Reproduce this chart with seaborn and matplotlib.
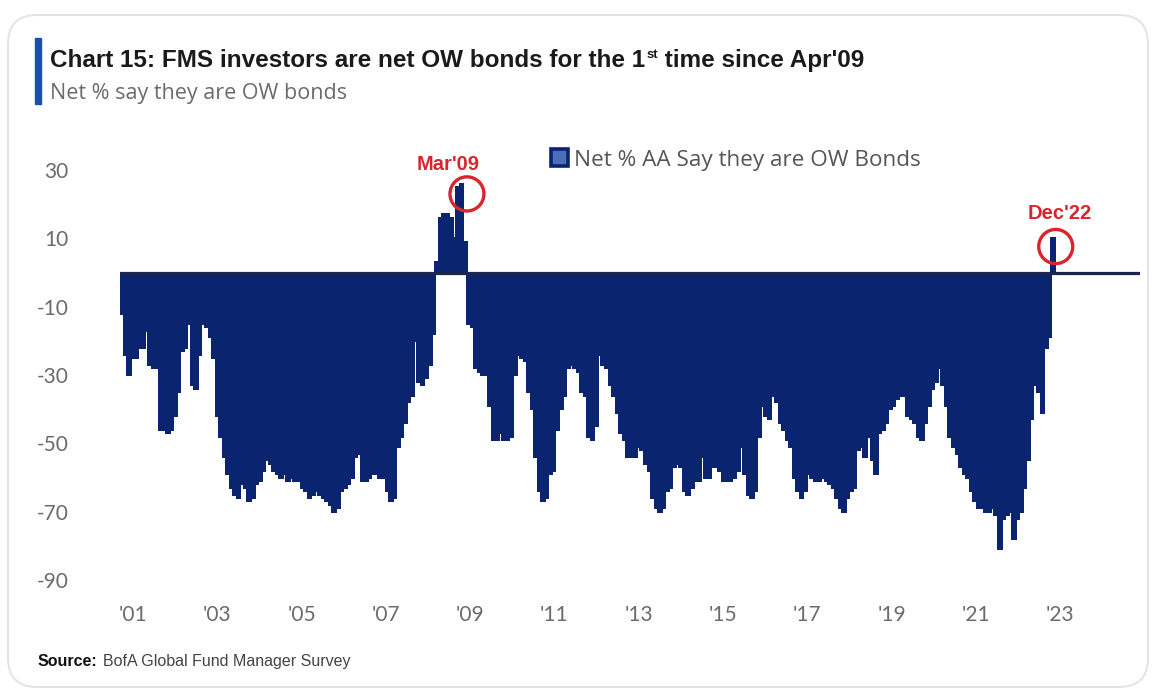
import numpy as np
import pandas as pd
import matplotlib
matplotlib.use("Agg")
import matplotlib.pyplot as plt
import seaborn as sns
from matplotlib import font_manager
from matplotlib.patches import Ellipse, Patch, FancyBboxPatch, Rectangle

# Net % of FMS asset allocators overweight bonds, monthly, 2001 - Dec 2022
ow_2001 = [-12, -24, -30, -25, -25, -22, -22, -17, -27, -28, -28, -46]
ow_2002 = [-46, -47, -46, -42, -35, -23, -22, -15, -33, -34, -24, -15]
ow_2003 = [-16, -19, -25, -42, -48, -54, -59, -63, -65, -66, -62, -63]
ow_2004 = [-67, -66, -62, -61, -58, -55, -56, -58, -59, -60, -59, -61]
ow_2005 = [-60, -61, -61, -63, -64, -66, -65, -64, -65, -66, -67, -68]
ow_2006 = [-70, -69, -64, -63, -62, -60, -54, -53, -61, -61, -60, -59]
ow_2007 = [-59, -60, -60, -64, -67, -66, -51, -48, -44, -38, -36, -20]
ow_2008 = [-32, -33, -31, -27, -18, 3, 16, 17, 17, 16, 10, 25]
ow_2009 = [26, 9, -15, -16, -28, -29, -30, -30, -39, -49, -49, -47]
ow_2010 = [-49, -49, -48, -30, -24, -25, -26, -35, -40, -54, -64, -67]
ow_2011 = [-66, -59, -58, -46, -40, -36, -28, -27, -28, -29, -35, -36]
ow_2012 = [-48, -49, -45, -24, -27, -28, -33, -36, -41, -47, -49, -54]
ow_2013 = [-54, -54, -51, -52, -56, -58, -66, -69, -70, -69, -64, -63]
ow_2014 = [-57, -56, -57, -64, -65, -63, -61, -61, -54, -60, -60, -57]
ow_2015 = [-57, -58, -61, -61, -61, -60, -58, -51, -59, -65, -66, -64]
ow_2016 = [-48, -39, -42, -43, -36, -38, -44, -46, -49, -51, -60, -64]
ow_2017 = [-66, -64, -59, -60, -61, -61, -60, -61, -62, -63, -66, -69]
ow_2018 = [-70, -66, -64, -63, -52, -51, -54, -48, -55, -59, -47, -46]
ow_2019 = [-44, -40, -39, -37, -36, -36, -42, -43, -44, -48, -49, -44]
ow_2020 = [-39, -34, -32, -28, -33, -39, -48, -51, -53, -57, -59, -60]
ow_2021 = [-64, -67, -69, -69, -70, -70, -69, -71, -81, -72, -71, -70]
ow_2022 = [-78, -72, -70, -63, -55, -43, -33, -35, -41, -22, -19, 10]

year_ticks = ["'01", "'03", "'05", "'07", "'09", "'11", "'13", "'15", "'17", "'19", "'21", "'23"]
y_ticks = [30, 10, -10, -30, -50, -70, -90]

series_name = "Net % AA Say they are OW Bonds"
title_main = "Chart 15: FMS investors are net OW bonds for the 1"
title_sup = "st"
title_end = " time since Apr'09"
subtitle = "Net % say they are OW bonds"
peak_label = "Mar'09"
last_label = "Dec'22"

values = (ow_2001 + ow_2002 + ow_2003 + ow_2004 + ow_2005 + ow_2006 + ow_2007 + ow_2008
          + ow_2009 + ow_2010 + ow_2011 + ow_2012 + ow_2013 + ow_2014 + ow_2015 + ow_2016
          + ow_2017 + ow_2018 + ow_2019 + ow_2020 + ow_2021 + ow_2022)
df = pd.DataFrame({"month": np.arange(len(values)), "net_ow": values})

NAVY = "#0b2470"
RED = "#d8262c"
GREY = "#6b6b6b"

sns.set_theme(style="white")
names = {f.name for f in font_manager.fontManager.ttflist}
NARROW = "Liberation Sans Narrow" if "Liberation Sans Narrow" in names else "Liberation Sans"
BODY = "Lato" if "Lato" in names else "DejaVu Sans"
WIDE = "Open Sans" if "Open Sans" in names else BODY
plt.rcParams["font.family"] = [BODY, "DejaVu Sans"]

fig = plt.figure(figsize=(11.56, 6.92), dpi=100)
fig.patch.set_facecolor("white")
ax = fig.add_axes([120 / 1156, 1 - 580 / 692, 1020 / 1156, 410 / 692])

sns.barplot(data=df, x="month", y="net_ow", color=NAVY, width=1.0, saturation=1,
            edgecolor=NAVY, linewidth=1.1, ax=ax, errorbar=None)
for bar in ax.patches:
    bar.set_antialiased(False)

n = len(values)
ax.set_xlim(-0.5, 287.6)
ax.set_ylim(-90, 30)
ax.axhline(0, color="#1a2550", lw=2.3, zorder=5)

ax.set_xticks(np.linspace(3.2, 265.0, len(year_ticks)))
ax.set_xticklabels(year_ticks)
ax.set_yticks(y_ticks)
ax.set_yticklabels([str(v) for v in y_ticks])
ax.tick_params(axis="both", length=0, labelsize=15, labelcolor=GREY)
ax.tick_params(axis="x", pad=18)
ax.tick_params(axis="y", pad=37)
for lab in ax.get_yticklabels():
    lab.set_horizontalalignment("right")
ax.set_xlabel("")
ax.set_ylabel("")
for s in ax.spines.values():
    s.set_visible(False)
ax.grid(False)

# Highlight the 2009 peak and the latest reading
i_peak = int(np.argmax(values))
i_last = n - 1
for idx, dy, lab, ty in [(i_peak, -3.0, peak_label, 31.5), (i_last, -2.4, last_label, 17.2)]:
    cx = idx + 1.5 if idx == i_peak else idx + 0.8
    ax.add_patch(Ellipse((cx, values[idx] + dy), width=9.6, height=10.0, fill=False,
                         edgecolor=RED, lw=2.4, zorder=6, clip_on=False))
    tx = idx - 3.8 if idx == i_peak else idx + 1.8
    ax.text(tx, ty, lab, color=RED, fontsize=14.5, fontweight="bold", family=[NARROW, "DejaVu Sans"],
            ha="center", va="center", clip_on=False)

# Legend
handle = Patch(facecolor="#4a6fb8", edgecolor=NAVY, linewidth=2.6, label=series_name)
fig.legend(handles=[handle], loc="center left", bbox_to_anchor=(551 / 1156, 1 - 160 / 692),
           frameon=False, handlelength=0.75, handleheight=0.75, handletextpad=0.25,
           borderpad=0, borderaxespad=0, prop={"family": [WIDE, "DejaVu Sans"], "size": 16.2},
           labelcolor="#555555")

# Card outline and title block
fig.patches.append(FancyBboxPatch((8 / 1156, 5 / 692), 1140 / 1156, 672 / 692,
                                  boxstyle="round,pad=0,rounding_size=0.025",
                                  transform=fig.transFigure, facecolor="none",
                                  edgecolor="#e3e3e3", lw=1.4, mutation_aspect=1156 / 692))
fig.patches.append(Rectangle((35 / 1156, 1 - 104 / 692), 6 / 1156, 66 / 692,
                             transform=fig.transFigure, color="#1b4fae"))

renderer = fig.canvas.get_renderer()
inv = fig.transFigure.inverted()


def text_run(x, y, pieces):
    for s, kw in pieces:
        t = fig.text(x, y, s, va="baseline", ha="left", **kw)
        bb = t.get_window_extent(renderer=renderer)
        x = inv.transform((bb.x1, bb.y0))[0]
    return x


tkw = dict(fontsize=17.5, fontweight="bold", color="#1a1a1a", family=[NARROW, "DejaVu Sans"])
x_end = text_run(50 / 1156, 1 - 67 / 692, [(title_main, tkw)])
x_end = text_run(x_end + 1 / 1156, 1 - 58 / 692,
                 [(title_sup, dict(tkw, fontsize=9.5))])
text_run(x_end, 1 - 67 / 692, [(title_end, tkw)])

fig.text(50 / 1156, 1 - 99 / 692, subtitle, fontsize=15.5, color=GREY, va="baseline",
         family=[WIDE, "DejaVu Sans"])

skw = dict(fontsize=11.5, color="#444444", family=[NARROW, "DejaVu Sans"])
xs = text_run(38 / 1156, 1 - 666 / 692, [("Source:", dict(skw, fontweight="bold", color="#111111"))])
text_run(xs + 5 / 1156, 1 - 666 / 692, [("BofA Global Fund Manager Survey", skw)])

fig.savefig("out.png", dpi=100, facecolor="white")
